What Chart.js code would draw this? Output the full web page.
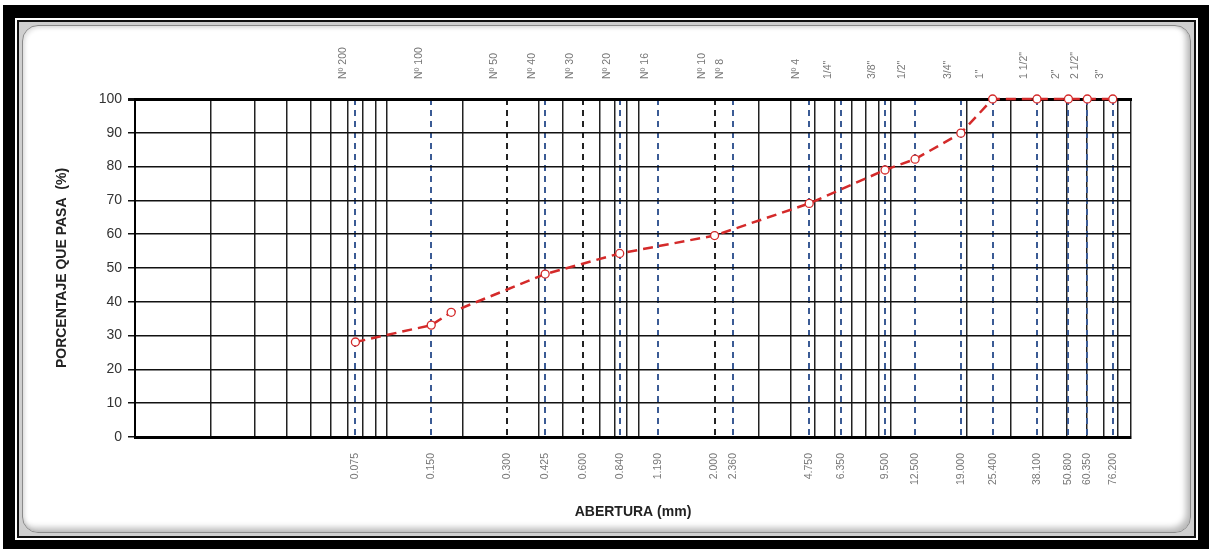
<!DOCTYPE html>
<html>
<head>
<meta charset="utf-8">
<script src="https://cdn.jsdelivr.net/npm/chart.js@4.4.1/dist/chart.umd.min.js"></script>
<style>
  html, body { margin: 0; padding: 0; background: #fff; }
  body { width: 1212px; height: 555px; position: relative; overflow: hidden; }
  #frame {
    position: absolute; left: 3px; top: 5px; width: 1206px; height: 544px;
    box-sizing: border-box; border-style: solid; border-color: #000;
    border-width: 13px 11px 9px 12px;
  }
  #rim { position: absolute; inset: 0; border: 2px solid #fff; }
  #rim2 { position: absolute; inset: 0; border: 2px solid #111; background: #cfcfcf; }
  #panel {
    position: absolute; inset: 3px; background: #fff;
    border: 1px solid #8a8a8a; border-radius: 16px;
    box-shadow: inset -4px -4px 6px rgba(0,0,0,0.28), inset 2px 2px 4px rgba(0,0,0,0.12);
  }
  canvas { position: absolute; left: 0; top: 0; }
</style>
</head>
<body>
<div id="frame"><div id="rim"><div id="rim2"><div id="panel"></div></div></div></div>
<canvas id="curva" width="1212" height="555"></canvas>
<script>
// tamices: nombre, abertura (mm) y rótulo
const sieveNames = ['Nº 200', 'Nº 100', 'Nº 50', 'Nº 40', 'Nº 30', 'Nº 20', 'Nº 16', 'Nº 10', 'Nº 8', 'Nº 4',
  '1/4"', '3/8"', '1/2"', '3/4"', '1"', '1 1/2"', '2"', '2 1/2"', '3"'];
const sieveSizes = [0.075, 0.150, 0.300, 0.425, 0.600, 0.840, 1.190, 2.000, 2.360, 4.750,
  6.350, 9.500, 12.500, 19.000, 25.400, 38.100, 50.800, 60.350, 76.200];
const sieveLabels = ['0.075', '0.150', '0.300', '0.425', '0.600', '0.840', '1.190', '2.000', '2.360', '4.750',
  '6.350', '9.500', '12.500', '19.000', '25.400', '38.100', '50.800', '60.350', '76.200'];

// curva granulométrica
const grainSizes = [0.075, 0.150, 0.180, 0.425, 0.840, 2.000, 4.750, 9.500, 12.500, 19.000, 25.400, 38.100, 50.800, 60.350, 76.200];
const percentPassing = [28.1, 33.1, 36.9, 48.2, 54.3, 59.6, 69.1, 79.0, 82.2, 89.9, 100, 100, 100, 100, 100];

const yTicks = [0, 10, 20, 30, 40, 50, 60, 70, 80, 90, 100];

const xMin = 0.01;
const xMax = 90;

// líneas de la grilla logarítmica (1..9 por década)
const logLines = [];
for (let e = -2; e <= 1; e++) {
  for (let m = 1; m <= 9; m++) logLines.push(+(m * Math.pow(10, e)).toPrecision(6));
}

const sieveIndex = v => sieveSizes.findIndex(s => Math.abs(s - v) < 1e-6);
const onLogLine = v => logLines.some(s => Math.abs(s - v) < 1e-6);

const bottomTicks = logLines.concat(sieveSizes.filter(v => !onLogLine(v))).sort((a, b) => a - b);

Chart.defaults.font.family = "'Liberation Sans', Arial, sans-serif";

new Chart(document.getElementById('curva'), {
  type: 'line',
  data: {
    datasets: [{
      data: grainSizes.map((x, i) => ({ x: x, y: percentPassing[i] })),
      borderColor: '#d42a2a',
      borderWidth: 2.5,
      borderDash: [10, 6],
      pointRadius: 4,
      pointBorderColor: '#d42a2a',
      pointBackgroundColor: '#fff',
      pointBorderWidth: 1.3,
      tension: 0,
      clip: false
    }]
  },
  options: {
    responsive: false,
    animation: false,
    layout: { padding: { left: 50, top: 20, right: 81, bottom: 27 } },
    plugins: { legend: { display: false }, tooltip: { enabled: false } },
    scales: {
      x: {
        type: 'logarithmic',
        position: 'bottom',
        min: xMin,
        max: xMax,
        afterBuildTicks: s => { s.ticks = bottomTicks.map(v => ({ value: v })); },
        afterFit: s => { s.height = 91; },
        ticks: {
          autoSkip: false, minRotation: 90, maxRotation: 90, padding: 16,
          color: '#777', font: { size: 10.5 },
          callback: v => { const i = sieveIndex(v); return i < 0 ? '' : sieveLabels[i]; }
        },
        grid: {
          drawTicks: false,
          color: c => {
            if (!c.tick) return '#333';
            const v = c.tick.value;
            if (sieveIndex(v) >= 0 && !onLogLine(v)) return '#3b5b95';
            return '#222';
          },
          lineWidth: c => (c.tick && sieveIndex(c.tick.value) >= 0) ? 2 : 1.5
        },
        border: {
          color: '#000', width: 3,
          dash: c => (c.tick && sieveIndex(c.tick.value) >= 0) ? [6, 5] : []
        },
        title: {
          display: true, text: 'ABERTURA (mm)', color: '#222',
          font: { size: 14, weight: 'bold' }, padding: { top: 0, bottom: 7 }
        }
      },
      x2: {
        type: 'logarithmic',
        position: 'top',
        min: xMin,
        max: xMax,
        afterBuildTicks: s => { s.ticks = sieveSizes.map(v => ({ value: v })); },
        afterFit: s => { s.height = 79; },
        ticks: {
          autoSkip: false, minRotation: 90, maxRotation: 90, padding: 20,
          color: '#777', font: { size: 10.5 },
          callback: v => { const i = sieveIndex(v); return i < 0 ? '' : sieveNames[i]; }
        },
        grid: { display: false, drawTicks: false },
        border: { display: true, color: '#000', width: 3 }
      },
      y: {
        min: 0,
        max: 100,
        afterBuildTicks: s => { s.ticks = yTicks.map(v => ({ value: v })); },
        afterFit: s => { s.width = 85; },
        ticks: { color: '#333', font: { size: 14 }, padding: 6 },
        grid: {
          color: '#111', tickLength: 7,
          lineWidth: c => (c.tick && c.tick.value === 100) ? 3 : 1.5
        },
        border: { color: '#000', width: 2 },
        title: {
          display: true, text: 'PORCENTAJE QUE PASA  (%)', color: '#222',
          font: { size: 14, weight: 'bold' }, padding: { top: 4, bottom: 0 }
        }
      }
    }
  }
});
</script>
</body>
</html>
